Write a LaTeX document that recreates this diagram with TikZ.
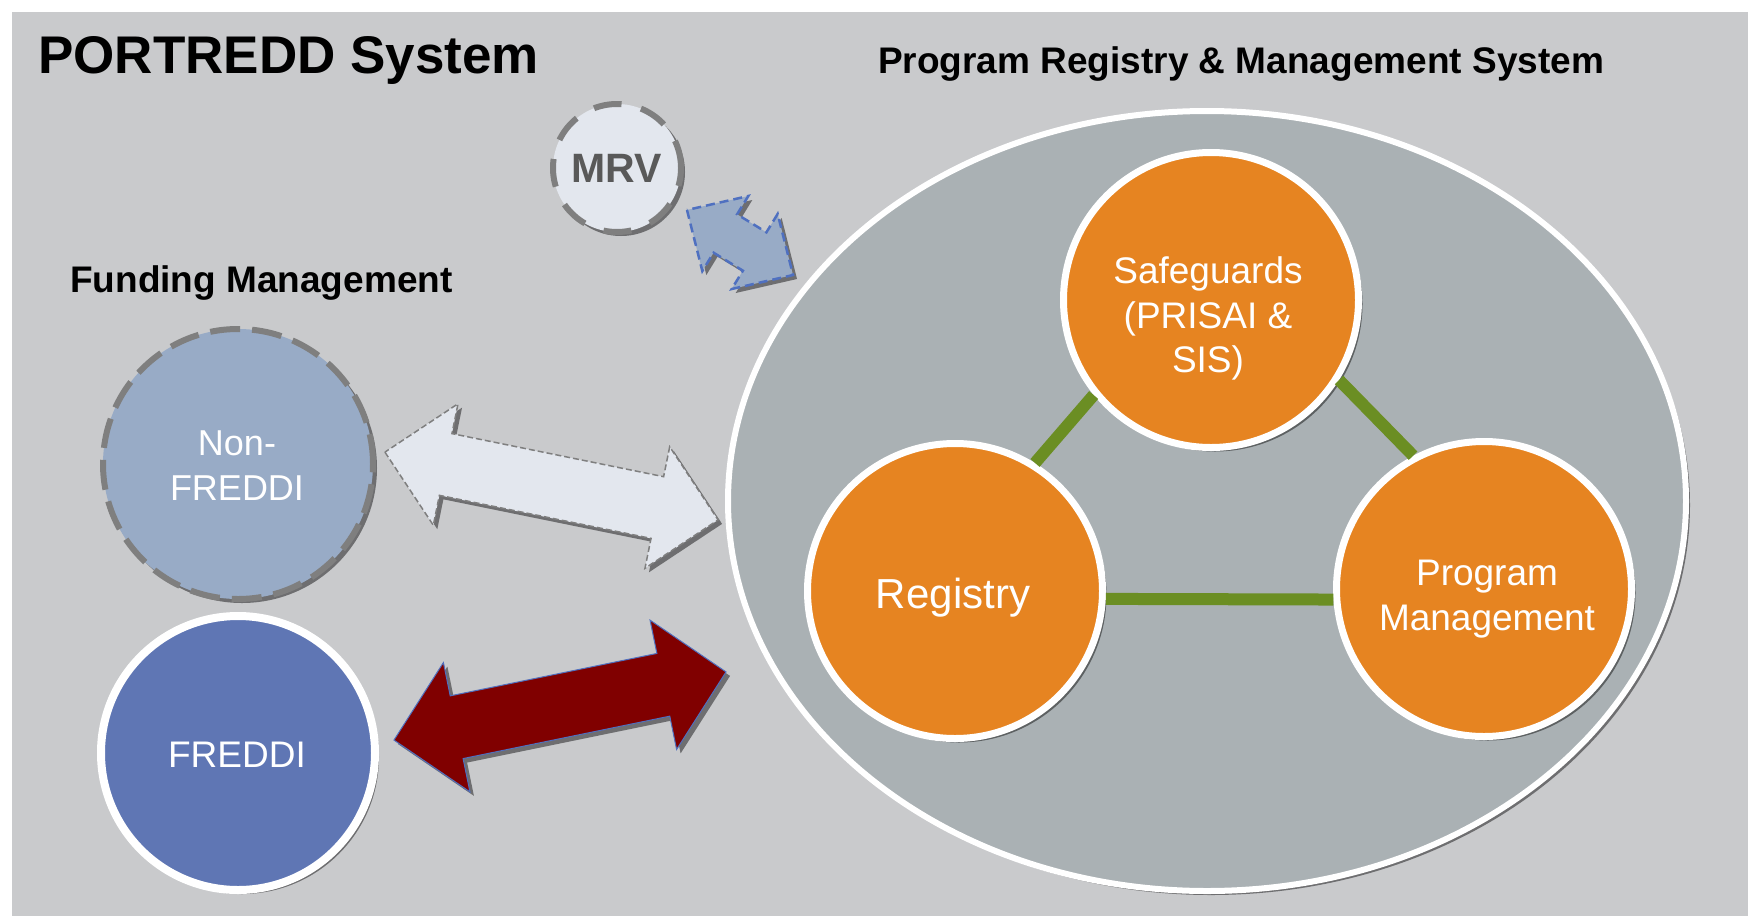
\documentclass[tikz,border=0pt]{standalone}
\usepackage{fontspec}
\setmainfont{Liberation Sans}
\usetikzlibrary{shadows,shapes.geometric}
\definecolor{bggray}{HTML}{C9CACC}
\definecolor{ellgray}{HTML}{AAB1B4}
\definecolor{orangec}{HTML}{E68421}
\definecolor{greenc}{HTML}{6B8E23}
\definecolor{freddiblue}{HTML}{5F76B4}
\definecolor{nonfill}{HTML}{98ABC6}
\definecolor{mrvfill}{HTML}{E3E7EE}
\definecolor{dashgray}{HTML}{7F7F7F}
\definecolor{darkredc}{HTML}{800000}
\definecolor{borderblue}{HTML}{4F70C0}
\definecolor{mrvtext}{HTML}{595959}
\newcommand\bkarrow[7]{%
  \begin{scope}[shift={#2},rotate=#3]
    \draw[#1] (-#4,0) -- ({-#4+#5},#7) -- ({-#4+#5},#6) -- ({#4-#5},#6) -- ({#4-#5},#7) -- (#4,0)
      -- ({#4-#5},-#7) -- ({#4-#5},-#6) -- ({-#4+#5},-#6) -- ({-#4+#5},-#7) -- cycle;
  \end{scope}}
\begin{document}
\begin{tikzpicture}[x=1pt,y=-1pt,
  shad/.style={drop shadow={shadow xshift=4pt,shadow yshift=-4pt,opacity=0.45,fill=black}},
  orangecirc/.style={circle,fill=orangec,draw=white,line width=7pt,minimum size=295pt,inner sep=0pt,shad},
  greenline/.style={draw=greenc,line width=12pt},
  headtext/.style={anchor=base west,inner sep=0pt,font=\bfseries\fontsize{37}{44}\selectfont},
  intext/.style={anchor=base,inner sep=0pt,text=white,font=\fontsize{37}{44}\selectfont}]
\useasboundingbox (0,0) rectangle (1754,919);
\fill[white] (0,0) rectangle (1754,919);
\fill[bggray] (12,12) rectangle (1748,916);

% titles
\node[anchor=base west,inner sep=0pt,font=\bfseries\fontsize{53}{60}\selectfont] (title) at (38,73) {PORTREDD System};
\node[headtext] (prmshead) at (878,73) {Program Registry \& Management System};
\node[headtext] (fundhead) at (70,292) {Funding Management};

% big ellipse
\node[ellipse,minimum width=958pt,minimum height=780pt,inner sep=0pt,fill=ellgray,draw=white,line width=6pt,shad] (prms) at (1207,501) {};

% block arrows
\bkarrow{fill=nonfill,draw=borderblue,line width=2.5pt,dash pattern=on 9pt off 5pt,shad}{(740,242.5)}{-31.5}{62.2}{45}{22.5}{44}
\bkarrow{fill=mrvfill,draw=dashgray,line width=1.5pt,dash pattern=on 6pt off 3pt,shad}{(551.5,486)}{-11.5}{170}{62}{31.5}{62}
\bkarrow{fill=darkredc,draw=borderblue,line width=1pt,shad}{(560,706)}{11.6}{169.5}{64}{32}{66}

% MRV
\node[circle,minimum size=128pt,inner sep=0pt,fill=mrvfill,draw=dashgray,line width=6pt,dash pattern=on 28pt off 20pt,shad] (mrv) at (617,168) {};
\node[anchor=base,inner sep=0pt,text=mrvtext,font=\bfseries\fontsize{41}{46}\selectfont] (mrvt) at (617,182) {MRV};

% funding circles
\node[circle,minimum size=270pt,inner sep=0pt,fill=nonfill,draw=dashgray,line width=6pt,dash pattern=on 30pt off 12pt,shad] (nonfreddi) at (238,464) {};
\node[intext,font=\fontsize{36}{44}\selectfont] (nf1) at (237,455) {Non-};
\node[intext,font=\fontsize{36}{44}\selectfont] (nf2) at (237,500) {FREDDI};
\node[circle,minimum size=274pt,inner sep=0pt,fill=freddiblue,draw=white,line width=8pt,shad] (freddi) at (238,753) {};
\node[intext] (fr1) at (237,767) {FREDDI};

% orange circles
\node[orangecirc] (safe) at (1211,300) {};
\node[orangecirc] (reg) at (955,591) {};
\node[orangecirc] (pm) at (1484,589) {};

% green connectors
\draw[greenline] (reg.58) -- (safe.219);
\draw[greenline] (safe.-32) -- (pm.118);
\draw[greenline] (reg.-3.5) -- (pm.184.5);

% inner texts
\node[intext] (s1) at (1208,283) {Safeguards};
\node[intext] (s2) at (1208,328) {(PRISAI \&};
\node[intext] (s3) at (1208,372) {SIS)};
\node[intext,font=\fontsize{42}{48}\selectfont] (r1) at (953,608) {Registry};
\node[intext] (p1) at (1487,585) {Program};
\node[intext] (p2) at (1487,630) {Management};
\end{tikzpicture}
\end{document}
